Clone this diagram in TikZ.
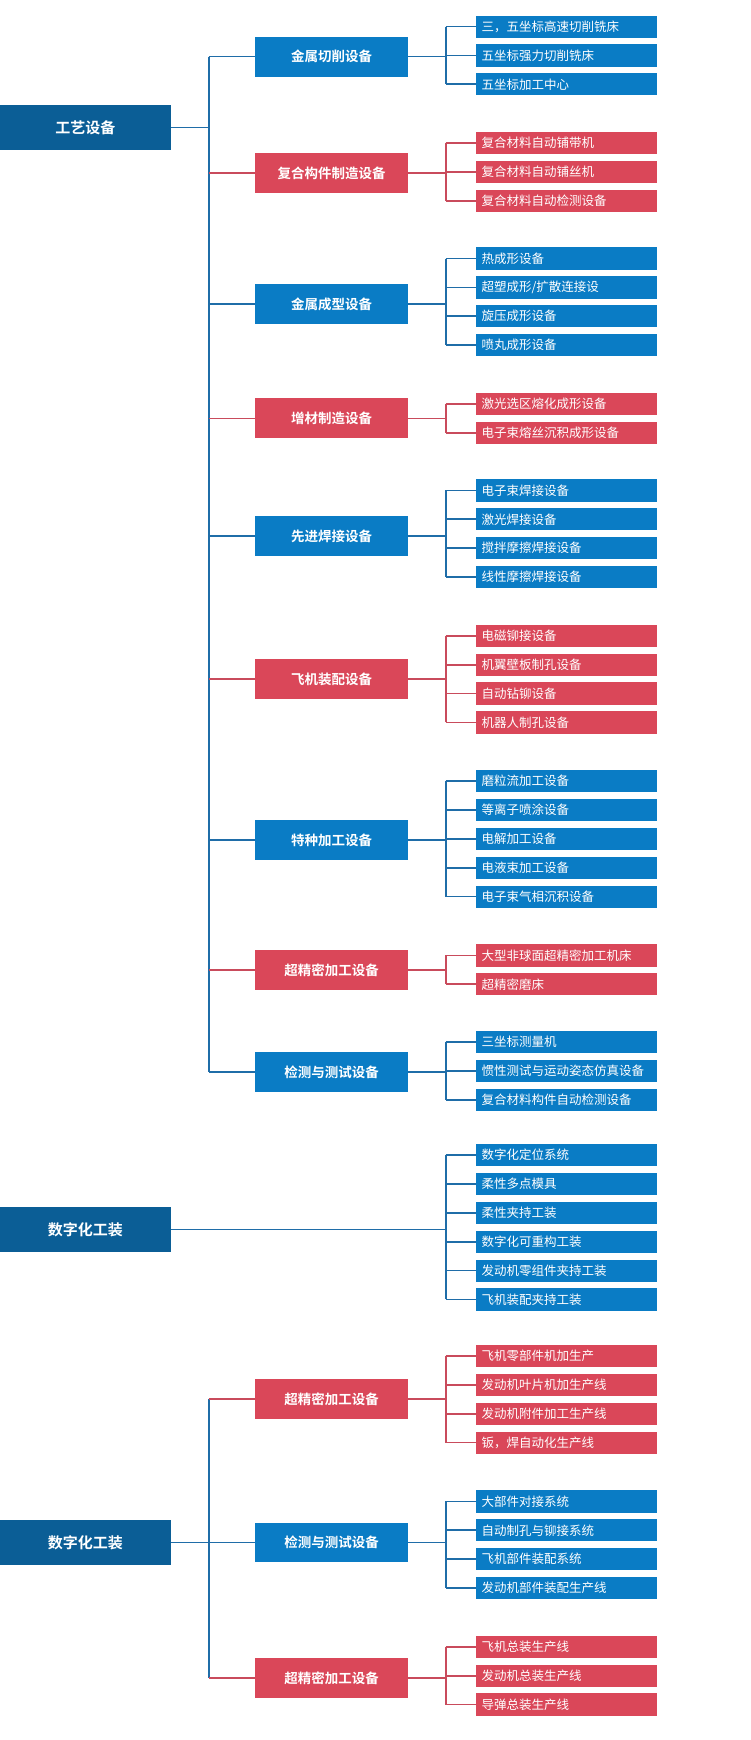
\documentclass[tikz,border=0pt]{standalone}
\usepackage{fontspec}
\setmainfont{Noto Sans CJK SC}
\newfontfamily\cjkb{Noto Sans CJK SC Bold}
\definecolor{cb}{HTML}{0A7CC5}
\definecolor{cr}{HTML}{DA4759}
\definecolor{cd}{HTML}{0B5E96}
\definecolor{lb}{HTML}{1F6DA8}
\definecolor{lr}{HTML}{C94B5C}
\tikzset{
 root/.style={fill=cd,text=white,minimum width=157*1.087pt,minimum height=40*1.11pt,inner sep=0pt,font=\cjkb\fontsize{15}{15}\selectfont},
 mid/.style={fill=#1,text=white,minimum width=140*1.087pt,minimum height=36*1.11pt,inner sep=0pt,font=\cjkb\fontsize{13.5}{14}\selectfont},
 leaf/.style={fill=#1,text=white,minimum width=166*1.087pt,minimum height=20*1.11pt,inner sep=0pt,text width=156*1.087pt,align=left,font=\fontsize{12.5}{13}\selectfont},
 ln/.style={draw=#1,line width=1.7pt}
}
\begin{document}
\begin{tikzpicture}[x=1.087pt,y=-1.1097pt]
\useasboundingbox[fill=white] (0,0) rectangle (690,1568);
\node[root] (r1) at (78.5,115) {工艺设备};
\node[root] (r2) at (78.5,1108) {数字化工装};
\node[root] (r3) at (78.5,1390) {数字化工装};
\coordinate (t1a) at (192,51); \coordinate (t1b) at (192,966);
\draw[ln=lb] (r1.east) -- (192,115);
\draw[ln=lb] (t1a) -- (t1b);
\coordinate (t3a) at (192,1261); \coordinate (t3b) at (192,1512);
\draw[ln=lb] (r3.east) -- (192,1390);
\draw[ln=lb] (t3a) -- (t3b);
\foreach \my/\c/\ly/\title/\lv [count=\g] in {
 51/b/24/金属切削设备/{三，五坐标高速切削铣床,五坐标强力切削铣床,五坐标加工中心},
 156/r/129/复合构件制造设备/{复合材料自动铺带机,复合材料自动铺丝机,复合材料自动检测设备},
 274/b/233/金属成型设备/{热成形设备,超塑成形/扩散连接设,旋压成形设备,喷丸成形设备},
 377/r/364/增材制造设备/{激光选区熔化成形设备,电子束熔丝沉积成形设备},
 483/b/442/先进焊接设备/{电子束焊接设备,激光焊接设备,搅拌摩擦焊接设备,线性摩擦焊接设备},
 612/r/573/飞机装配设备/{电磁铆接设备,机翼壁板制孔设备,自动钻铆设备,机器人制孔设备},
 757/b/704/特种加工设备/{磨粒流加工设备,等离子喷涂设备,电解加工设备,电液束加工设备,电子束气相沉积设备},
 874/r/861/超精密加工设备/{大型非球面超精密加工机床,超精密磨床},
 966/b/939/检测与测试设备/{三坐标测量机,惯性测试与运动姿态仿真设备,复合材料构件自动检测设备},
 1261/r/1222/超精密加工设备/{飞机零部件机加生产,发动机叶片机加生产线,发动机附件加工生产线,钣，焊自动化生产线},
 1390/b/1353/检测与测试设备/{大部件对接系统,自动制孔与铆接系统,飞机部件装配系统,发动机部件装配生产线},
 1512/r/1484/超精密加工设备/{飞机总装生产线,发动机总装生产线,导弹总装生产线}}
{
 \node[mid=c\c] (m\g) at (305,\my) {\title};
 \coordinate (tk\g) at (192,\my);
 \draw[ln=l\c] (tk\g) -- (m\g.west);
 \coordinate (bt\g) at (410,\my);
 \draw[ln=l\c] (m\g.east) -- (bt\g);
 \foreach \t [count=\i] in \lv {
   \node[leaf=c\c] (l\g-\i) at (521,{\ly+26*(\i-1)}) {\t};
   \draw[ln=l\c] (410,{\ly+26*(\i-1)}) -- (l\g-\i.west);
   \xdef\nl{\i}
 }
 \draw[ln=l\c] (410,\ly) -- (410,{\ly+26*(\nl-1)});
}
\coordinate (d0) at (410,1108);
\draw[ln=lb] (r2.east) -- (d0);
\foreach \t [count=\i] in {数字化定位系统,柔性多点模具,柔性夹持工装,数字化可重构工装,发动机零组件夹持工装,飞机装配夹持工装}{
 \node[leaf=cb] (d\i) at (521,{1041+26*(\i-1)}) {\t};
 \draw[ln=lb] (410,{1041+26*(\i-1)}) -- (d\i.west);
}
\draw[ln=lb] (410,1041) -- (410,1171);
\end{tikzpicture}
\end{document}
